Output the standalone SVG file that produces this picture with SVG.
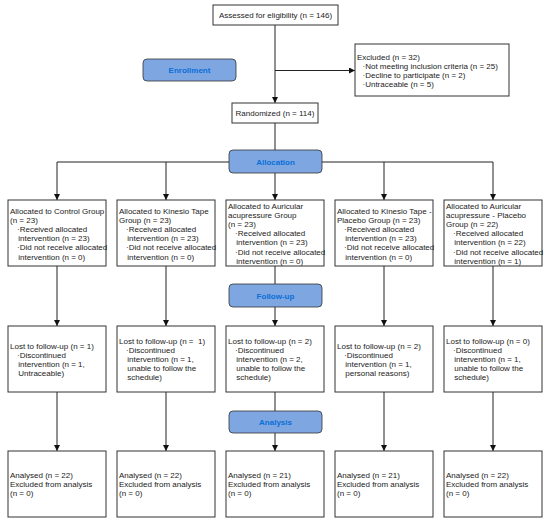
<svg xmlns="http://www.w3.org/2000/svg" width="550" height="524" viewBox="0 0 550 524">
<defs>
<marker id="arr" markerUnits="userSpaceOnUse" markerWidth="6" markerHeight="6" viewBox="0 0 6 6" refX="6" refY="3" orient="auto">
<path d="M0,0 L6,3 L0,6 Z" fill="#111"/>
</marker>
</defs>
<style>
.box{fill:#fff;stroke:#333;stroke-width:1}
.btn{fill:#7ea6e0;stroke:#333;stroke-width:0.8}
.t{font-family:"Liberation Sans",Arial,sans-serif;font-size:8px;fill:#222}
.bt{font-family:"Liberation Sans",Arial,sans-serif;font-size:8px;font-weight:bold;fill:#0a6fd8;text-anchor:middle}
.c{text-anchor:middle}
.ln{fill:none;stroke:#222;stroke-width:1}
.ar{marker-end:url(#arr)}
</style>
<rect width="550" height="524" fill="#fff"/>

<g id="connectors">
<path class="ln ar" d="M275,25 V103"/>
<path class="ln ar" d="M275,70.5 H355"/>
<path class="ln" d="M275,123 V150"/>
<path class="ln" d="M229,162 H57"/>
<path class="ln" d="M322,162 H493"/>
<path class="ln ar" d="M57,162 V200"/>
<path class="ln ar" d="M166,162 V200"/>
<path class="ln ar" d="M275,173 V200"/>
<path class="ln ar" d="M384,162 V200"/>
<path class="ln ar" d="M493,162 V200"/>
<path class="ln ar" d="M57,266 V326"/>
<path class="ln ar" d="M166,266 V326"/>
<path class="ln" d="M275,266 V284"/>
<path class="ln ar" d="M275,307 V326"/>
<path class="ln ar" d="M384,266 V326"/>
<path class="ln ar" d="M493,266 V326"/>
<path class="ln ar" d="M57,392 V451"/>
<path class="ln ar" d="M166,392 V451"/>
<path class="ln" d="M275,392 V411"/>
<path class="ln ar" d="M275,433 V451"/>
<path class="ln ar" d="M384,392 V451"/>
<path class="ln ar" d="M493,392 V451"/>
</g>

<g id="assessed">
<rect class="box" x="213" y="5" width="125" height="20"/>
<text class="t c" x="275.5" y="18.3">Assessed for eligibility (n = 146)</text>
</g>
<g id="enrollment">
<rect class="btn" x="143" y="59" width="93" height="22" rx="4"/>
<text class="bt" x="189.5" y="73">Enrollment</text>
</g>
<g id="excluded">
<rect class="box" x="355" y="44" width="154" height="52"/>
<text class="t"><tspan x="357" y="59.5">Excluded (n = 32)</tspan><tspan x="362.5" y="68.8">·Not meeting inclusion criteria (n = 25)</tspan><tspan x="362.5" y="78.1">·Decline to participate (n = 2)</tspan><tspan x="362.5" y="87.4">·Untraceable (n = 5)</tspan></text>
</g>
<g id="randomized">
<rect class="box" x="232" y="103" width="86" height="20"/>
<text class="t c" x="275" y="116.3">Randomized (n = 114)</text>
</g>
<g id="allocation">
<rect class="btn" x="229" y="150" width="93" height="23" rx="4"/>
<text class="bt" x="275.5" y="164.5">Allocation</text>
</g>
<g id="followup">
<rect class="btn" x="229" y="284" width="93" height="23" rx="4"/>
<text class="bt" x="275.5" y="298.5">Follow-up</text>
</g>
<g id="analysis">
<rect class="btn" x="229" y="411" width="93" height="22" rx="4"/>
<text class="bt" x="275.5" y="425">Analysis</text>
</g>

<g id="alloc1">
<rect class="box" x="8" y="200" width="98" height="66"/>
<text class="t"><tspan x="10" y="214">Allocated to Control Group</tspan><tspan x="10" y="223.1">(n = 23)</tspan><tspan x="17" y="232.2">·Received allocated</tspan><tspan x="18.3" y="241.3">intervention (n = 23)</tspan><tspan x="17" y="250.4">·Did not receive allocated</tspan><tspan x="18.3" y="259.5">intervention (n = 0)</tspan></text>
</g>
<g id="alloc2">
<rect class="box" x="117" y="200" width="98" height="66"/>
<text class="t"><tspan x="119" y="214">Allocated to Kinesio Tape</tspan><tspan x="119" y="223.1">Group (n = 23)</tspan><tspan x="126" y="232.2">·Received allocated</tspan><tspan x="127.3" y="241.3">intervention (n = 23)</tspan><tspan x="126" y="250.4">·Did not receive allocated</tspan><tspan x="127.3" y="259.5">intervention (n = 0)</tspan></text>
</g>
<g id="alloc3">
<rect class="box" x="226" y="200" width="98" height="66"/>
<text class="t"><tspan x="228" y="209">Allocated to Auricular</tspan><tspan x="228" y="218.1">acupressure Group</tspan><tspan x="228" y="227.2">(n = 23)</tspan><tspan x="235" y="236.3">·Received allocated</tspan><tspan x="236.3" y="245.4">intervention (n = 23)</tspan><tspan x="235" y="254.5">·Did not receive allocated</tspan><tspan x="236.3" y="263.6">intervention (n = 0)</tspan></text>
</g>
<g id="alloc4">
<rect class="box" x="335" y="200" width="98" height="66"/>
<text class="t"><tspan x="337" y="214">Allocated to Kinesio Tape -</tspan><tspan x="337" y="223.1">Placebo Group (n = 23)</tspan><tspan x="344" y="232.2">·Received allocated</tspan><tspan x="345.3" y="241.3">intervention (n = 23)</tspan><tspan x="344" y="250.4">·Did not receive allocated</tspan><tspan x="345.3" y="259.5">intervention (n = 0)</tspan></text>
</g>
<g id="alloc5">
<rect class="box" x="444" y="200" width="98" height="66"/>
<text class="t"><tspan x="446" y="209">Allocated to Auricular</tspan><tspan x="446" y="218.1">acupressure - Placebo</tspan><tspan x="446" y="227.2">Group (n = 22)</tspan><tspan x="453" y="236.3">·Received allocated</tspan><tspan x="454.3" y="245.4">intervention (n = 22)</tspan><tspan x="453" y="254.5">·Did not receive allocated</tspan><tspan x="454.3" y="263.6">intervention (n = 1)</tspan></text>
</g>

<g id="lost1">
<rect class="box" x="8" y="326" width="98" height="66"/>
<text class="t"><tspan x="10" y="348.5">Lost to follow-up (n = 1)</tspan><tspan x="17" y="357.6">·Discontinued</tspan><tspan x="18.3" y="366.7">intervention (n = 1,</tspan><tspan x="18.3" y="375.8">Untraceable)</tspan></text>
</g>
<g id="lost2">
<rect class="box" x="117" y="326" width="98" height="66"/>
<text class="t" xml:space="preserve"><tspan x="119" y="343.5">Lost to follow-up (n =  1)</tspan><tspan x="126" y="352.6">·Discontinued</tspan><tspan x="127.3" y="361.7">intervention (n = 1,</tspan><tspan x="127.3" y="370.8">unable to follow the</tspan><tspan x="127.3" y="379.9">schedule)</tspan></text>
</g>
<g id="lost3">
<rect class="box" x="226" y="326" width="98" height="66"/>
<text class="t"><tspan x="228" y="343.5">Lost to follow-up (n = 2)</tspan><tspan x="235" y="352.6">·Discontinued</tspan><tspan x="236.3" y="361.7">intervention (n = 2,</tspan><tspan x="236.3" y="370.8">unable to follow the</tspan><tspan x="236.3" y="379.9">schedule)</tspan></text>
</g>
<g id="lost4">
<rect class="box" x="335" y="326" width="98" height="66"/>
<text class="t"><tspan x="337" y="348.5">Lost to follow-up (n = 2)</tspan><tspan x="344" y="357.6">·Discontinued</tspan><tspan x="345.3" y="366.7">intervention (n = 1,</tspan><tspan x="345.3" y="375.8">personal reasons)</tspan></text>
</g>
<g id="lost5">
<rect class="box" x="444" y="326" width="98" height="66"/>
<text class="t"><tspan x="446" y="343.5">Lost to follow-up (n = 0)</tspan><tspan x="453" y="352.6">·Discontinued</tspan><tspan x="454.3" y="361.7">intervention (n = 1,</tspan><tspan x="454.3" y="370.8">unable to follow the</tspan><tspan x="454.3" y="379.9">schedule)</tspan></text>
</g>

<g id="anal1">
<rect class="box" x="8" y="451" width="98" height="66"/>
<text class="t"><tspan x="10" y="478">Analysed (n = 22)</tspan><tspan x="10" y="487.1">Excluded from analysis</tspan><tspan x="10" y="496.2">(n = 0)</tspan></text>
</g>
<g id="anal2">
<rect class="box" x="117" y="451" width="98" height="66"/>
<text class="t"><tspan x="119" y="478">Analysed (n = 22)</tspan><tspan x="119" y="487.1">Excluded from analysis</tspan><tspan x="119" y="496.2">(n = 0)</tspan></text>
</g>
<g id="anal3">
<rect class="box" x="226" y="451" width="98" height="66"/>
<text class="t"><tspan x="228" y="478">Analysed (n = 21)</tspan><tspan x="228" y="487.1">Excluded from analysis</tspan><tspan x="228" y="496.2">(n = 0)</tspan></text>
</g>
<g id="anal4">
<rect class="box" x="335" y="451" width="98" height="66"/>
<text class="t"><tspan x="337" y="478">Analysed (n = 21)</tspan><tspan x="337" y="487.1">Excluded from analysis</tspan><tspan x="337" y="496.2">(n = 0)</tspan></text>
</g>
<g id="anal5">
<rect class="box" x="444" y="451" width="98" height="66"/>
<text class="t"><tspan x="446" y="478">Analysed (n = 22)</tspan><tspan x="446" y="487.1">Excluded from analysis</tspan><tspan x="446" y="496.2">(n = 0)</tspan></text>
</g>
</svg>
